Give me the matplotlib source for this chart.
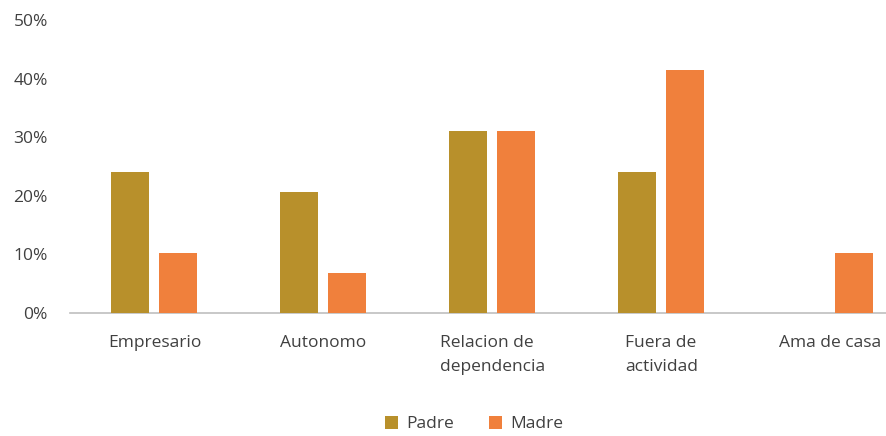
import numpy as np
import matplotlib
matplotlib.use("Agg")
import matplotlib.pyplot as plt
from matplotlib.ticker import FuncFormatter

categories = ["Empresario", "Autonomo", "Relacion de\ndependencia", "Fuera de\nactividad", "Ama de casa"]
padre = [24.1, 20.7, 31.0, 24.1, 0.0]
madre = [10.3, 6.9, 31.0, 41.4, 10.3]

PADRE_COLOR = "#B8902B"
MADRE_COLOR = "#F0803C"
TEXT_COLOR = "#404040"

plt.rcParams["font.family"] = ["Open Sans", "DejaVu Sans"]

fig = plt.figure(figsize=(8.86, 4.36), dpi=100)
ax = fig.add_axes([0.079, 0.282, 0.921, 0.672])

x = np.arange(len(categories))
w = 0.225
off = 0.142
ax.bar(x - off, padre, w, color=PADRE_COLOR, label="Padre", zorder=3)
ax.bar(x + off, madre, w, color=MADRE_COLOR, label="Madre", zorder=3)

ax.set_xlim(-0.5, 4.33)
ax.set_ylim(0, 50)
ax.set_yticks([0, 10, 20, 30, 40, 50])
ax.yaxis.set_major_formatter(FuncFormatter(lambda v, p: f"{v:.0f}%"))
ax.set_xticks(x)
ax.set_xticklabels(categories, multialignment="left", linespacing=1.65)
ax.tick_params(axis="both", length=0, labelsize=12.5, colors=TEXT_COLOR)
ax.tick_params(axis="x", pad=16)
ax.tick_params(axis="y", pad=16)

for s in ["top", "right", "left"]:
    ax.spines[s].set_visible(False)
ax.spines["bottom"].set_color("#BFBFBF")
ax.spines["bottom"].set_linewidth(1.2)

leg = ax.legend(loc="center", bbox_to_anchor=(0.535, 0.027), bbox_transform=fig.transFigure,
                ncol=2, frameon=False, fontsize=12.5, handlelength=0.75, handleheight=0.75,
                columnspacing=2.0, handletextpad=0.5)
for t in leg.get_texts():
    t.set_color(TEXT_COLOR)

fig.savefig("out.png", dpi=100)
